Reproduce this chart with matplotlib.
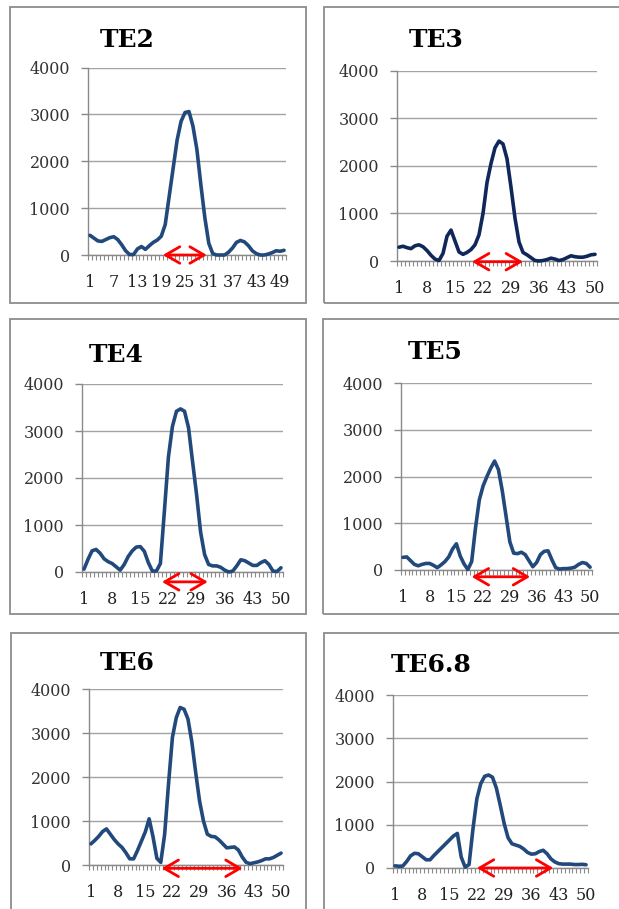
import numpy as np
import matplotlib
matplotlib.use("Agg")
import matplotlib.pyplot as plt
from matplotlib.patches import Rectangle

W, H = 619, 909
DPI = 100

# ---------------------------------------------------------------------------
# data (categories 1..50)
# ---------------------------------------------------------------------------
categories = np.arange(1, 51)

te2 = [420, 360, 300, 290, 330, 370, 390, 330, 220, 90,
       10, 10, 130, 180, 120, 200, 270, 320, 400, 650,
       1250, 1850, 2450, 2850, 3040, 3060, 2750, 2250, 1500, 800,
       250, 30, 0, 0, 0, 60, 150, 270, 310, 280,
       200, 90, 30, 0, 0, 20, 50, 90, 80, 100]

te3 = [290, 310, 280, 260, 320, 340, 300, 220, 120, 40,
       10, 160, 520, 650, 420, 190, 140, 180, 240, 340,
       550, 1000, 1650, 2050, 2380, 2520, 2460, 2150, 1550, 900,
       400, 180, 130, 70, 10, 0, 10, 30, 60, 40,
       10, 30, 70, 110, 90, 80, 80, 100, 130, 140]

te4 = [60, 270, 450, 480, 400, 280, 220, 180, 110, 40,
       160, 330, 450, 530, 540, 440, 200, 20, 20, 180,
       1300, 2450, 3100, 3420, 3470, 3420, 3070, 2350, 1650, 850,
       370, 160, 130, 130, 100, 40, 0, 20, 130, 260,
       240, 190, 140, 140, 200, 240, 160, 20, 10, 90]

te5 = [270, 280, 200, 120, 90, 120, 140, 140, 100, 50,
       110, 180, 280, 450, 560, 300, 130, 10, 180, 900,
       1500, 1800, 2000, 2180, 2330, 2150, 1700, 1150, 600, 360,
       350, 380, 330, 200, 70, 160, 330, 400, 410, 220,
       50, 20, 30, 30, 40, 60, 120, 160, 140, 60]

te6 = [480, 560, 650, 760, 820, 700, 580, 480, 400, 280,
       140, 140, 330, 540, 750, 1050, 640, 150, 60, 700,
       1850, 2900, 3350, 3580, 3540, 3320, 2800, 2100, 1450, 1000,
       700, 650, 640, 570, 480, 390, 400, 410, 340, 180,
       60, 30, 50, 70, 100, 140, 140, 170, 220, 270]

te68 = [50, 40, 45, 150, 280, 340, 330, 260, 190, 190,
        290, 380, 470, 560, 650, 740, 800, 250, 20, 80,
        900, 1600, 1950, 2120, 2150, 2100, 1850, 1450, 1030, 700,
        560, 530, 500, 440, 360, 320, 330, 380, 410, 330,
        210, 140, 100, 90, 90, 90, 80, 80, 85, 75]

titles = ["TE2", "TE3", "TE4", "TE5", "TE6", "TE6.8"]
series = [te2, te3, te4, te5, te6, te68]
label_step = [6, 7, 7, 7, 7, 7]
y_ticks = [0, 1000, 2000, 3000, 4000]

# red double arrows (start, end, height) marking the band
arrow_from = [19.4, 19.25, 20.4, 19.0, 19.2, 22.0]
arrow_to = [30.5, 32.0, 31.8, 34.3, 40.1, 41.6]
arrow_y = [0, -15, -210, -145, -75, 0]

# ---------------------------------------------------------------------------
# layout in pixels
# ---------------------------------------------------------------------------
# plot area: left, right, top (4000), bottom (0)
plot_px = [(88, 286, 67.5, 255),
           (397, 597, 70.7, 261),
           (82, 283, 384, 572),
           (401, 592, 383, 570),
           (89, 283, 689, 865),
           (393, 588, 695, 868)]
# panel border boxes: left, top, right, bottom
box_px = [(10, 7, 306, 303),
          (324, 7, 640, 303),
          (10, 319, 306, 614),
          (323, 319, 640, 614),
          (11, 633, 306, 930),
          (324, 633, 640, 930)]
title_px = [(127, 40), (436, 40), (116, 355), (435, 352), (127, 663), (431, 665)]
line_colors = ["#22497c", "#0f2759", "#22497c", "#22497c", "#22497c", "#22497c"]

plt.rcParams['font.family'] = ['DejaVu Serif']

fig = plt.figure(figsize=(W / DPI, H / DPI), dpi=DPI)
fig.patch.set_facecolor("white")


def fx(p):
    return p / W


def fy(p):
    return 1 - p / H


grid_col = "#a3a3a3"
axis_col = "#8a8a8a"

for k in range(6):
    l, r, t, b = plot_px[k]
    ax = fig.add_axes([fx(l), fy(b), fx(r - l), (b - t) / H])
    ax.set_xlim(0.5, 50.5)
    ax.set_ylim(0, 4000)

    ax.plot(categories, series[k], color=line_colors[k], lw=2.6,
            solid_joinstyle="round", solid_capstyle="round", clip_on=False, zorder=3)

    ax.set_yticks(y_ticks)
    ax.yaxis.grid(True, color=grid_col, lw=1.0)
    ax.set_axisbelow(True)
    ax.tick_params(axis="y", length=5, width=1, color=axis_col, pad=8,
                   labelsize=11.5, labelcolor="#333333")

    ticks = list(range(1, 51, label_step[k]))
    ax.set_xticks(ticks)
    ax.set_xticklabels([str(v) for v in ticks])
    ax.tick_params(axis="x", which="major", length=0, pad=14,
                   labelsize=11.5, labelcolor="#222222")
    ax.set_xticks(np.arange(0.5, 51, 1), minor=True)
    ax.tick_params(axis="x", which="minor", length=3.5, width=0.8,
                   color=axis_col, direction="out")

    for s in ["top", "right"]:
        ax.spines[s].set_visible(False)
    ax.spines["left"].set_color(axis_col)
    ax.spines["bottom"].set_color(axis_col)
    ax.spines["left"].set_linewidth(1.0)
    ax.spines["bottom"].set_linewidth(1.0)

    ax.annotate("", xy=(arrow_to[k], arrow_y[k]), xytext=(arrow_from[k], arrow_y[k]),
                arrowprops=dict(arrowstyle="<->,head_length=0.6,head_width=0.35",
                                color="red", lw=2.0, mutation_scale=17,
                                shrinkA=0, shrinkB=0),
                annotation_clip=False, zorder=4)

    bl, bt, br, bb = box_px[k]
    fig.add_artist(Rectangle((fx(bl), fy(bb)), fx(br - bl), (bb - bt) / H,
                             transform=fig.transFigure, fill=False,
                             edgecolor="#8c8c8c", lw=1.3))

    tx, ty = title_px[k]
    fig.text(fx(tx), fy(ty), titles[k], ha="center", va="center",
             fontsize=18, fontweight="bold", color="black")

fig.savefig("out.png", dpi=DPI)
